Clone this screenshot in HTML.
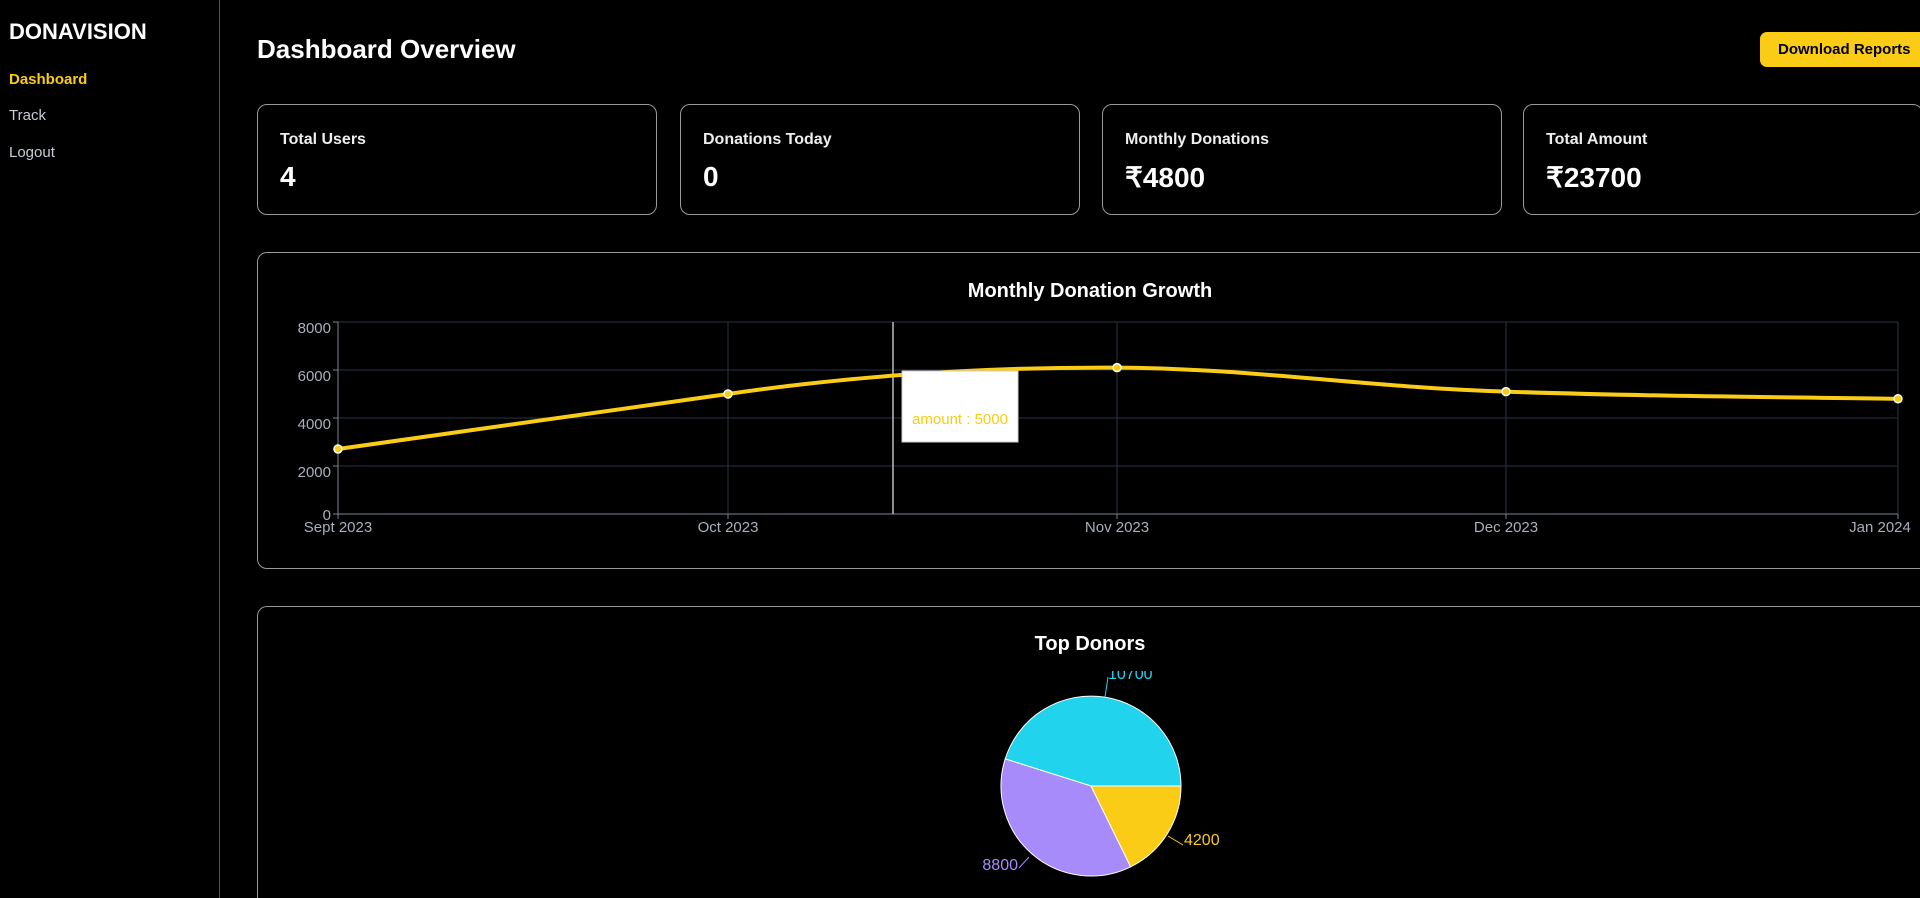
<!DOCTYPE html>
<html><head><meta charset="utf-8"><style>
html,body{margin:0;padding:0;background:#000;width:1920px;height:898px;overflow:hidden;font-family:"Liberation Sans",sans-serif;color:#fff}
.wrap{position:relative;width:1920px;height:898px;overflow:hidden}
.sb{position:absolute;left:0;top:0;width:219px;height:898px;border-right:1px solid #555}
.logo{position:absolute;left:9px;top:19px;font-size:22px;font-weight:bold}
.nav{position:absolute;left:9px;font-size:15px;color:#c8ccd4}
h1{position:absolute;left:257px;top:34px;margin:0;font-size:26px;font-weight:bold}
.btn{position:absolute;left:1760px;top:32px;width:170px;height:35px;background:#facc15;border-radius:7px;color:#000;font-size:15px;font-weight:bold;line-height:35px;padding-left:18px;box-sizing:border-box}
.card{position:absolute;top:104px;width:400px;height:111px;border:1px solid #999;border-radius:10px;box-sizing:border-box}
.card .t{position:absolute;left:22px;top:26px;font-size:16px;font-weight:bold;color:#eee}
.card .v{position:absolute;left:22px;top:56px;font-size:28px;font-weight:bold}
.box{position:absolute;left:257px;width:1700px;border:1px solid #999;border-radius:10px;box-sizing:border-box}
</style></head><body><div class="wrap">
<div class="sb"></div>
<div class="logo">DONAVISION</div>
<div class="nav" style="top:71px;color:#facc15;font-weight:bold">Dashboard</div>
<div class="nav" style="top:107px">Track</div>
<div class="nav" style="top:144px">Logout</div>
<h1>Dashboard Overview</h1>
<div class="btn">Download Reports</div>
<div class="card" style="left:257px"><div class="t">Total Users</div><div class="v">4</div></div>
<div class="card" style="left:680px"><div class="t">Donations Today</div><div class="v">0</div></div>
<div class="card" style="left:1102px"><div class="t">Monthly Donations</div><div class="v">₹4800</div></div>
<div class="card" style="left:1523px"><div class="t">Total Amount</div><div class="v">₹23700</div></div>
<div class="box" style="top:252px;height:317px"></div>
<div class="box" style="top:606px;height:292px;border-bottom:none;border-bottom-left-radius:0;border-bottom-right-radius:0"></div>
<svg width="1920" height="898" style="position:absolute;left:0;top:0" font-family="Liberation Sans, sans-serif">
<text x="1090" y="297" text-anchor="middle" font-size="20" font-weight="bold" fill="#fff">Monthly Donation Growth</text>
<g stroke="#2a3340" stroke-width="1">
<line x1="338" y1="322" x2="1898" y2="322"/><line x1="338" y1="370" x2="1898" y2="370"/>
<line x1="338" y1="418" x2="1898" y2="418"/><line x1="338" y1="466" x2="1898" y2="466"/>
<line x1="728" y1="322" x2="728" y2="514"/><line x1="1117" y1="322" x2="1117" y2="514"/>
<line x1="1506" y1="322" x2="1506" y2="514"/><line x1="1898" y1="322" x2="1898" y2="514"/>
</g>
<g stroke="#7a8290" stroke-width="1"><line x1="338" y1="322" x2="338" y2="514"/><line x1="338" y1="514" x2="1898" y2="514"/>
<line x1="333" y1="322" x2="338" y2="322"/><line x1="333" y1="370" x2="338" y2="370"/><line x1="333" y1="418" x2="338" y2="418"/><line x1="333" y1="466" x2="338" y2="466"/><line x1="333" y1="514" x2="338" y2="514"/>
<line x1="338" y1="514" x2="338" y2="519"/><line x1="728" y1="514" x2="728" y2="519"/><line x1="1117" y1="514" x2="1117" y2="519"/><line x1="1506" y1="514" x2="1506" y2="519"/><line x1="1898" y1="514" x2="1898" y2="519"/></g>
<g fill="#a8b0bc" font-size="15" text-anchor="end">
<text x="331" y="333">8000</text><text x="331" y="381">6000</text><text x="331" y="429">4000</text><text x="331" y="477">2000</text><text x="331" y="520">0</text></g>
<g fill="#a8b0bc" font-size="15" text-anchor="middle">
<text x="338" y="532">Sept 2023</text><text x="728" y="532">Oct 2023</text><text x="1117" y="532">Nov 2023</text><text x="1506" y="532">Dec 2023</text><text x="1880" y="532">Jan 2024</text></g>
<line x1="893" y1="322" x2="893" y2="514" stroke="#bbb" stroke-width="1.5"/>
<path d="M338,449 C468,431 598,413 728,394 C858,375 987,367 1117,367.6 C1247,368 1376,388 1506,391.6 C1636,396 1767,397 1898,398.8" fill="none" stroke="#facc15" stroke-width="4"/>
<g fill="#facc15" stroke="#fff" stroke-width="1.5">
<circle cx="338" cy="449" r="4"/><circle cx="728" cy="394" r="4"/><circle cx="1117" cy="367.6" r="4"/><circle cx="1506" cy="391.6" r="4"/><circle cx="1898" cy="398.8" r="4"/></g>
<rect x="902" y="371" width="116" height="71" fill="#fff" stroke="#ccc"/>
<text x="960" y="424" text-anchor="middle" font-size="15" fill="#facc15">amount : 5000</text>
<text x="1090" y="650" text-anchor="middle" font-size="20" font-weight="bold" fill="#fff">Top Donors</text>
<g stroke="#fff" stroke-width="1">
<path d="M1091,786 L1181,786 A90,90 0 0 0 1005.2,758.9 Z" fill="#22d3ee"/>
<path d="M1091,786 L1005.2,758.9 A90,90 0 0 0 1130.7,866.8 Z" fill="#a78bfa"/>
<path d="M1091,786 L1130.7,866.8 A90,90 0 0 0 1181,786 Z" fill="#facc15"/></g>
<clipPath id="c"><rect x="1000" y="671" width="300" height="30"/></clipPath>
<line x1="1105" y1="697" x2="1108" y2="677" stroke="#22d3ee"/>
<text x="1108" y="679" font-size="16" fill="#22d3ee" clip-path="url(#c)">10700</text>
<polyline points="1168,836 1183,845" fill="none" stroke="#facc15"/>
<text x="1184" y="845" font-size="16" fill="#facc15">4200</text>
<polyline points="1029,857 1019,868" fill="none" stroke="#a78bfa"/>
<text x="1018" y="870" font-size="16" fill="#a78bfa" text-anchor="end">8800</text>
</svg>
</div></body></html>
